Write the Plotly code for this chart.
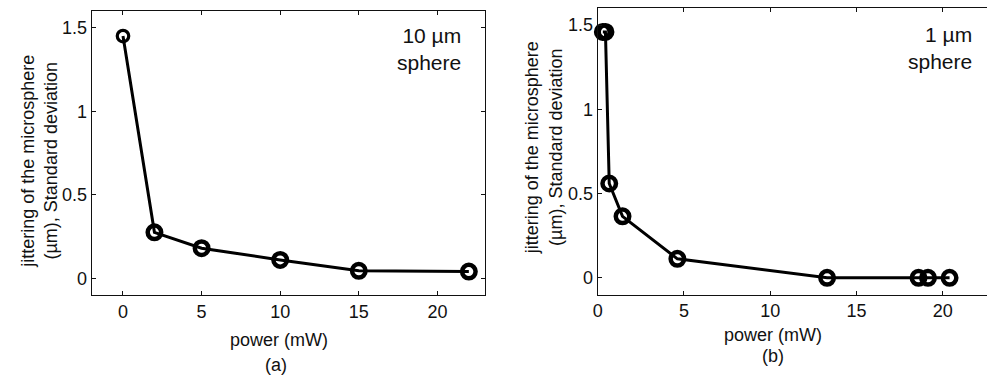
import plotly.graph_objects as go

# Data
power_a = [0, 2, 5, 10, 15, 22]
jitter_a = [1.45, 0.275, 0.18, 0.11, 0.045, 0.04]

power_b = [0.3, 0.45, 0.67, 1.44, 4.62, 13.3, 18.6, 19.15, 20.4]
jitter_b = [1.46, 1.46, 0.56, 0.365, 0.113, 0.0, 0.0, 0.0, 0.0]

x_ticks = [0, 5, 10, 15, 20]
y_ticks = [0, 0.5, 1, 1.5]
y_tick_text = ["0", "0.5", "1", "1.5"]

W, H = 987, 377
FONT = "Liberation Sans, Arial, Helvetica, sans-serif"


def px(x):
    return x / W


def py(y):
    return 1 - y / H


fig = go.Figure()

sizes_a = [11.5] + [13.5] * (len(power_a) - 1)
widths_a = [3.2] + [4.5] * (len(power_a) - 1)
fig.add_trace(go.Scatter(
    x=power_a, y=jitter_a, mode="lines+markers",
    line=dict(color="black", width=3),
    marker=dict(symbol="circle-open", size=sizes_a, color="black", opacity=1,
                line=dict(color="black", width=widths_a)),
    cliponaxis=False, xaxis="x", yaxis="y", showlegend=False,
))
fig.add_trace(go.Scatter(
    x=power_b, y=jitter_b, mode="lines+markers",
    line=dict(color="black", width=3),
    marker=dict(symbol="circle-open", size=13.5, color="black", opacity=1,
                line=dict(color="black", width=4.5)),
    cliponaxis=False, xaxis="x2", yaxis="y2", showlegend=False,
))

axis_common = dict(
    showgrid=False, zeroline=False, showline=True, linecolor="#111",
    linewidth=1, ticks="inside", ticklen=4,
    tickcolor="#111", tickwidth=1,
    tickfont=dict(family=FONT, size=18, color="#111"),
)

fig.update_layout(
    width=W, height=H,
    margin=dict(l=0, r=0, t=0, b=0),
    paper_bgcolor="white", plot_bgcolor="white",
    xaxis=dict(domain=[px(87), px(482)], range=[-2, 23], tickvals=x_ticks,
               anchor="y", mirror="ticks", **axis_common),
    yaxis=dict(domain=[py(295), py(11)], range=[-0.1, 1.6], tickvals=y_ticks,
               ticktext=y_tick_text, anchor="x", mirror="ticks", **axis_common),
    xaxis2=dict(domain=[px(595.7), 1.0], range=[0, 22.57], tickvals=x_ticks,
                anchor="y2", mirror="ticks", **axis_common),
    yaxis2=dict(domain=[py(294.7), py(8.3)], range=[-0.1, 1.6], tickvals=y_ticks,
                ticktext=y_tick_text, anchor="x2", mirror=False, **axis_common),
)

ann_font = dict(family=FONT, size=18, color="#111")
big_font = dict(family=FONT, size=21, color="#111")
annotations = [
    # axis titles (a)
    dict(x=px(275), y=py(340), text="power (mW)", font=ann_font),
    dict(x=px(272), y=py(365), text="(a)", font=ann_font),
    dict(x=px(34), y=py(161), text="jittering of the microsphere<br>(µm), Standard deviation",
         textangle=-90, font=ann_font),
    # axis titles (b)
    dict(x=px(772), y=py(335), text="power (mW)", font=ann_font),
    dict(x=px(772), y=py(356), text="(b)", font=ann_font),
    dict(x=px(541), y=py(148), text="jittering of the microsphere<br>(µm), Standard deviation",
         textangle=-90, font=ann_font),
    # labels inside plots
    dict(x=px(460), y=py(49), text="10 µm<br>sphere", align="right", xanchor="right",
         font=big_font),
    dict(x=px(974), y=py(48), text="1 µm<br>sphere", align="right", xanchor="right",
         font=big_font),
]
for a in annotations:
    a.setdefault("xref", "paper")
    a.setdefault("yref", "paper")
    a.setdefault("showarrow", False)
    a.setdefault("xanchor", "center")
    a.setdefault("yanchor", "middle")
    fig.add_annotation(**a)

fig.write_html("out.html")
